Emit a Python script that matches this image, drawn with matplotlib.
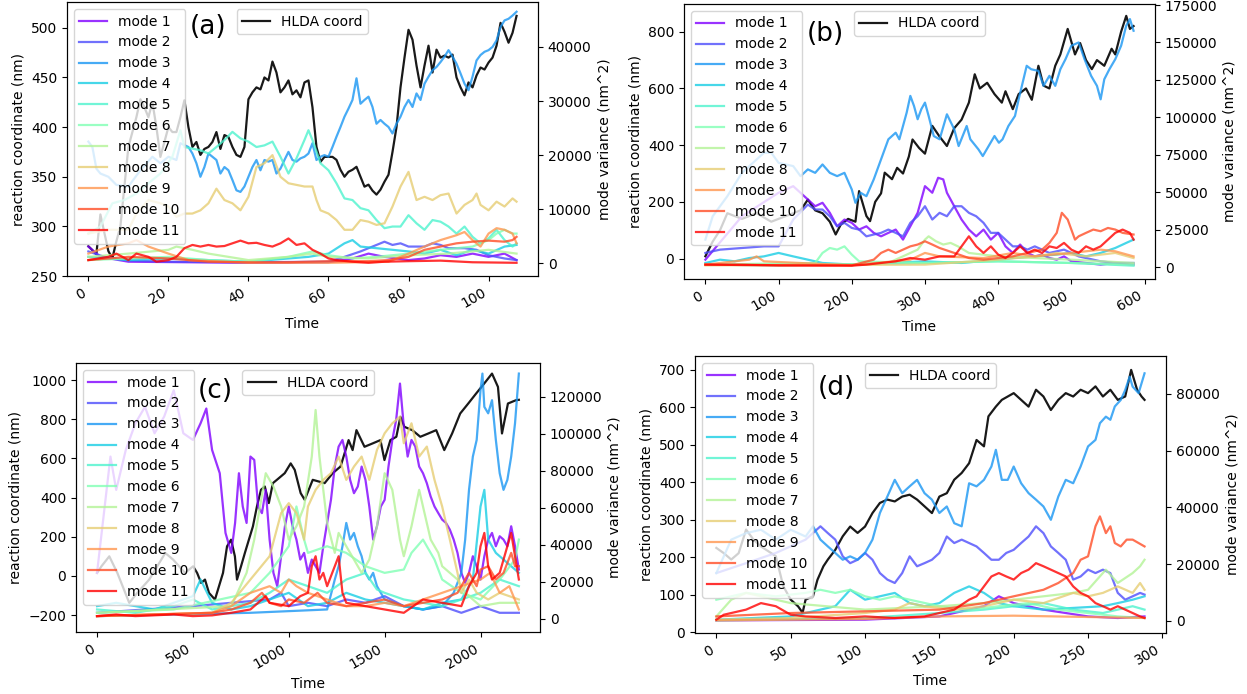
import numpy as np
import matplotlib
matplotlib.use("Agg")
import matplotlib.pyplot as plt

plt.rcParams['font.family'] = ['DejaVu Sans']
plt.rcParams['font.size'] = 10

mode_names = ["mode %d" % i for i in range(1, 12)]

# ---------------- panel (a) ----------------
a_hlda_t = [0, 2, 3, 5, 6, 7, 8, 10, 11, 12, 13, 14, 15, 16, 17, 18, 19, 20, 21, 22, 23, 24, 25, 26, 27, 28, 29,
            30, 31, 32, 33, 34, 35, 36, 37, 38, 39, 40, 41, 42, 43, 44, 45, 46, 47, 48, 49, 50, 51, 52, 53, 54, 55,
            56, 57, 58, 59, 60, 61, 62, 63, 64, 65, 66, 67, 68, 69, 70, 71, 72, 73, 74, 75, 76, 77, 78, 79, 80, 81,
            82, 83, 84, 85, 86, 87, 88, 89, 90, 91, 92, 93, 94, 95, 96, 97, 98, 99, 100, 101, 102, 103, 104, 105,
            106, 107]
a_hlda = [280, 272, 312, 275, 268, 285, 300, 380, 395, 410, 428, 420, 410, 425, 400, 370, 385, 400, 395, 395, 410,
          427, 400, 380, 385, 372, 378, 380, 385, 395, 378, 392, 390, 380, 372, 370, 380, 428, 435, 440, 438, 450,
          447, 466, 455, 435, 440, 447, 433, 437, 430, 445, 447, 420, 380, 365, 370, 370, 370, 367, 357, 350, 355,
          357, 360, 350, 340, 342, 336, 332, 337, 345, 352, 375, 400, 440, 470, 498, 488, 462, 440, 462, 482, 455,
          478, 470, 472, 470, 473, 450, 440, 432, 445, 440, 452, 460, 458, 465, 470, 482, 505, 496, 485, 495, 512]

a_mode_t = [
    [0, 3, 10, 40, 60, 66, 70, 74, 80, 84, 88, 92, 96, 100, 104, 107],
    [0, 4, 10, 20, 40, 60, 64, 68, 72, 74, 76, 78, 80, 84, 86, 88, 90, 94, 97, 100, 104, 107],
    [0, 1, 2, 3, 5, 7, 10, 13, 16, 18, 20, 22, 23, 25, 26, 27, 28, 29, 30, 31, 32, 33, 34, 35, 36, 37, 38, 39, 40,
     41, 42, 43, 44, 45, 46, 47, 48, 49, 50, 51, 52, 53, 54, 55, 56, 57, 58, 59, 60, 61, 62, 63, 64, 65, 66, 67,
     68, 69, 70, 71, 72, 73, 74, 75, 76, 77, 78, 79, 80, 81, 82, 83, 84, 85, 86, 87, 88, 89, 90, 91, 92, 93, 94,
     95, 96, 97, 98, 99, 100, 101, 102, 103, 104, 105, 106, 107],
    [0, 10, 20, 40, 55, 60, 64, 66, 68, 72, 76, 80, 84, 88, 92, 96, 100, 104, 107],
    [0, 3, 6, 9, 12, 15, 18, 21, 23, 24, 26, 28, 30, 32, 34, 36, 38, 40, 42, 44, 46, 48, 50, 52, 54, 55, 56, 58,
     60, 62, 64, 66, 68, 70, 72, 74, 76, 78, 80, 82, 84, 86, 88, 90, 92, 94, 96, 98, 100, 102, 104, 106, 107],
    [0, 10, 20, 30, 40, 50, 56, 60, 66, 72, 80, 88, 96, 100, 102, 104, 106, 107],
    [0, 10, 20, 22, 26, 30, 40, 50, 56, 60, 70, 80, 90, 100, 107],
    [0, 5, 10, 12, 15, 18, 20, 22, 24, 26, 28, 30, 32, 34, 36, 38, 40, 42, 44, 46, 48, 50, 52, 54, 56, 57, 58, 60,
     62, 64, 66, 68, 70, 72, 74, 76, 78, 80, 82, 84, 86, 88, 90, 92, 94, 96, 97, 98, 100, 102, 104, 106, 107],
    [0, 5, 10, 12, 15, 20, 25, 40, 60, 75, 80, 84, 88, 92, 94, 96, 98, 100, 102, 104, 106, 107],
    [0, 10, 20, 30, 40, 50, 60, 70, 75, 80, 84, 88, 92, 96, 100, 104, 106, 107],
    [0, 5, 7, 10, 12, 15, 17, 20, 22, 24, 26, 28, 30, 32, 34, 36, 38, 40, 42, 44, 46, 48, 50, 52, 54, 56, 58, 60,
     62, 66, 70, 74, 80, 88, 96, 107],
]
a_mode_v = [
    [3100, 1200, 300, 100, 200, 900, 1800, 1200, 600, 900, 1500, 1200, 1800, 1200, 1800, 600],
    [2200, 1200, 500, 300, 200, 300, 1200, 2200, 3400, 4000, 3400, 3700, 3100, 3100, 3700, 3400, 2800, 2800, 2500,
     1500, 900, 600],
    [22500, 21500, 17500, 16600, 16000, 14500, 14200, 17200, 19700, 18500, 19700, 19100, 22200, 21500, 20300,
     18500, 16000, 17800, 20300, 19700, 19100, 16600, 17800, 17200, 15400, 13500, 13200, 14200, 16000, 17800,
     19100, 17200, 19100, 18800, 19100, 16600, 17500, 19100, 20600, 19100, 18800, 19400, 19700, 20300, 22200,
     19100, 19700, 20000, 19700, 21500, 23400, 25200, 27100, 28600, 30200, 34200, 29500, 30200, 30800, 28900,
     25800, 26500, 25800, 25200, 24000, 25800, 27100, 28900, 30200, 28900, 31400, 30200, 33200, 34500, 35700,
     36300, 37200, 38200, 39400, 38200, 36900, 35100, 33200, 32000, 34500, 37500, 38500, 39100, 39400, 40000,
     41200, 43700, 44900, 45200, 45800, 46500],
    [1200, 600, 900, 300, 1200, 1800, 3700, 4300, 3100, 2800, 2500, 2200, 1800, 2500, 1500, 2500, 1800, 3100, 3400],
    [5500, 6800, 11100, 11700, 12900, 14800, 16600, 19700, 24600, 21500, 21200, 20900, 20300, 21500, 22800, 24300,
     23100, 22500, 21500, 21800, 22500, 19700, 16600, 19400, 22800, 24600, 22800, 18500, 17200, 14800, 12000,
     11700, 10200, 9800, 8000, 6500, 6800, 6800, 8900, 7400, 6200, 8000, 7700, 6800, 5500, 6800, 4900, 3700, 4600,
     6200, 4300, 3100, 3700],
    [600, 900, 1200, 600, 300, 1200, 2200, 1500, 900, 1200, 1800, 2500, 3100, 4300, 5500, 6200, 5500, 5500],
    [1200, 1800, 2500, 3100, 2500, 1800, 600, 1200, 1800, 1200, 900, 1500, 1800, 2500, 1800],
    [5500, 6200, 6200, 9200, 11700, 11100, 10500, 8600, 9200, 9200, 9800, 11100, 13800, 11700, 11100, 9800, 12300,
     17800, 18500, 20000, 16000, 14800, 14500, 14200, 14200, 11700, 9800, 9200, 8000, 6200, 6200, 8000, 7700,
     7100, 7400, 10500, 14200, 16900, 11700, 12300, 11700, 12600, 12900, 9200, 10800, 11700, 12900, 10800, 9800,
     11400, 10500, 12000, 11400],
    [1800, 3100, 3700, 4300, 3100, 1800, 600, 100, 100, 300, 1800, 3100, 4300, 5200, 5800, 4300, 3100, 5500, 6500,
     6200, 5500, 3700],
    [600, 1200, 900, 300, 200, 200, 400, 400, 600, 1200, 2500, 3100, 3700, 4000, 4200, 4000, 4300, 4900],
    [600, 1200, 1800, 600, 1800, 1200, 300, 600, 1200, 2800, 3400, 3100, 3400, 3100, 3200, 3700, 4200, 3700, 3800,
     3400, 3100, 3700, 4600, 3400, 3700, 2500, 1800, 900, 600, 300, 100, 300, 400, 500, 200, 100],
]

# ---------------- panel (b) ----------------
b_hlda_t = [0, 10, 20, 30, 50, 70, 90, 110, 130, 140, 150, 160, 170, 178, 185, 195, 205, 210, 220, 225, 232, 240,
            245, 255, 262, 270, 278, 283, 292, 300, 310, 320, 330, 340, 350, 360, 368, 375, 385, 395, 405, 410, 420,
            428, 438, 446, 455, 462, 470, 478, 485, 495, 505, 512, 520, 528, 535, 545, 555, 560, 568, 575, 580, 585]
b_hlda = [8, 60, 100, 160, 140, 160, 130, 150, 170, 208, 170, 160, 130, 85, 120, 140, 130, 238, 150, 132, 200, 230,
          303, 280, 320, 300, 360, 420, 390, 370, 468, 430, 397, 460, 490, 550, 650, 600, 620, 580, 550, 590, 527,
          580, 600, 560, 680, 610, 600, 680, 720, 810, 720, 760, 700, 668, 700, 680, 740, 720, 800, 856, 810, 820]

b_mode_t = [
    [0, 50, 100, 120, 140, 150, 160, 170, 180, 190, 200, 210, 220, 230, 240, 250, 260, 270, 280, 290, 300, 310,
     318, 325, 330, 340, 350, 360, 370, 380, 390, 400, 410, 420, 430, 440, 450, 460, 470, 480, 490, 500, 520,
     540, 560, 585],
    [0, 20, 50, 80, 100, 120, 140, 150, 160, 170, 180, 190, 200, 210, 220, 230, 240, 250, 260, 270, 280, 290, 300,
     310, 320, 330, 340, 350, 360, 370, 380, 390, 400, 410, 420, 430, 440, 450, 460, 470, 480, 490, 500, 510,
     520, 540, 560, 585],
    [0, 10, 30, 50, 80, 90, 100, 120, 130, 140, 150, 160, 170, 180, 190, 200, 205, 212, 220, 230, 240, 250, 260,
     265, 275, 280, 285, 290, 295, 300, 305, 312, 320, 330, 340, 346, 357, 362, 373, 379, 387, 395, 401, 406,
     414, 423, 428, 439, 445, 455, 462, 470, 478, 485, 492, 500, 510, 518, 527, 535, 540, 545, 552, 560, 568,
     575, 580, 585],
    [0, 20, 40, 60, 80, 100, 120, 140, 160, 200, 300, 350, 400, 420, 450, 480, 500, 520, 540, 560, 575, 585],
    [0, 100, 300, 400, 500, 585],
    [0, 150, 160, 170, 180, 190, 200, 210, 300, 400, 500, 585],
    [0, 200, 250, 290, 300, 305, 315, 325, 335, 345, 360, 400, 450, 500, 585],
    [0, 300, 400, 450, 480, 520, 560, 585],
    [0, 60, 70, 80, 200, 280, 300, 320, 380, 420, 450, 500, 540, 560, 585],
    [0, 50, 100, 200, 230, 240, 250, 260, 270, 280, 290, 300, 310, 320, 340, 360, 380, 400, 420, 440, 460, 470,
     480, 487, 495, 500, 505, 510, 520, 530, 540, 550, 560, 570, 585],
    [0, 100, 200, 220, 240, 260, 280, 300, 320, 340, 350, 360, 370, 380, 390, 400, 410, 420, 430, 440, 450, 460,
     470, 480, 490, 500, 510, 520, 530, 540, 550, 560, 570, 580, 585],
]
b_mode_v = [
    [4900, 33900, 49600, 54000, 45100, 40600, 42900, 36200, 27200, 31700, 29500, 25000, 27200, 22800, 20500,
     22800, 25000, 18300, 27200, 36200, 54000, 49600, 59600, 58500, 49600, 40600, 31700, 25000, 20500, 25000,
     18300, 22800, 13800, 9400, 15000, 9400, 7100, 8300, 6000, 4900, 7100, 3800, 2700, 1600, 2700, 1600],
    [9400, 11600, 12700, 13800, 13800, 31700, 41700, 38400, 38400, 33900, 27200, 29500, 26100, 25000, 20500,
     21700, 22800, 25000, 22800, 20500, 29500, 33900, 40600, 31700, 36200, 33900, 40600, 40600, 36200, 33900,
     29500, 22800, 22800, 18300, 13800, 13800, 11600, 13800, 11600, 9400, 10500, 11600, 9400, 7100, 6000, 3800,
     2700, 2700],
    [18300, 33900, 47300, 62900, 76300, 76300, 69600, 67400, 60700, 65200, 62900, 68500, 62900, 60700, 62900,
     51800, 42900, 49600, 47300, 58500, 71900, 85300, 89700, 85300, 103100, 114300, 107600, 98700, 105400,
     109800, 100900, 87500, 85300, 102000, 92000, 80800, 94200, 85300, 78600, 74100, 80800, 87500, 83000, 85300,
     94200, 100900, 112000, 134400, 132100, 131000, 121000, 127700, 121000, 132100, 138800, 147800, 150000,
     138800, 127700, 121000, 112000, 125400, 132100, 138800, 147800, 161200, 165600, 157800],
    [2700, 4900, 3800, 6000, 7100, 9400, 7100, 4900, 2700, 1600, 3800, 2700, 4900, 6000, 7100, 8300, 9400, 7100,
     9400, 12700, 16100, 18300],
    [1600, 1100, 2700, 3800, 2700, 900],
    [1600, 2700, 9400, 12700, 11600, 13800, 8300, 3800, 2700, 3800, 2700, 1600],
    [1600, 1600, 2700, 11600, 18300, 20500, 17200, 15000, 16100, 13800, 9400, 7100, 6000, 4900, 2700],
    [1100, 1600, 4900, 7100, 9400, 7100, 9400, 6000],
    [1600, 4900, 7100, 3800, 1100, 4900, 9400, 7100, 6000, 9400, 7100, 9400, 11600, 10500, 7100],
    [1600, 1600, 1100, 1100, 4900, 9400, 11600, 9400, 11600, 13800, 15000, 17200, 15000, 12700, 9400, 6000, 4900,
     6000, 7100, 9400, 11600, 16100, 22800, 36200, 31700, 25000, 18300, 20500, 22800, 25000, 23900, 26100,
     25000, 22800, 21700],
    [1600, 1100, 900, 1600, 2700, 3800, 6000, 4900, 7100, 7100, 13800, 20500, 13800, 9400, 13800, 8300, 6000,
     9400, 13800, 9400, 11600, 9400, 13800, 12700, 16100, 11600, 9400, 13800, 11600, 13800, 18300, 22800, 25000,
     22800, 18300],
]

# ---------------- panel (c) ----------------
c_hlda_t = [0, 23, 64, 106, 168, 210, 272, 356, 397, 459, 501, 522, 543, 563, 584, 615, 636, 657, 678, 699, 719,
            730, 751, 771, 792, 813, 834, 855, 875, 896, 917, 938, 979, 1010, 1031, 1062, 1083, 1125, 1187, 1229,
            1270, 1312, 1333, 1353, 1395, 1437, 1478, 1499, 1530, 1561, 1582, 1603, 1644, 1686, 1728, 1769, 1811,
            1852, 1894, 1936, 1977, 2019, 2060, 2091, 2112, 2143, 2185, 2200]
c_hlda = [15, 49, 100, 15, -138, -87, -19, 117, 83, 15, 49, 15, -36, -19, -87, -121, -53, 15, 151, 185, 100, -19,
          49, 117, 185, 253, 355, 440, 457, 372, 474, 491, 525, 575, 542, 423, 389, 491, 474, 525, 559, 694, 643,
          745, 660, 677, 694, 592, 694, 711, 813, 762, 745, 711, 728, 745, 643, 728, 830, 881, 932, 983, 1034, 966,
          728, 881, 898, 900]

c_mode_t = [
    [0, 40, 70, 100, 150, 200, 250, 300, 350, 400, 450, 500, 540, 570, 600, 640, 670, 700, 720, 740, 760, 780,
     800, 820, 840, 860, 880, 900, 920, 940, 960, 980, 1000, 1020, 1040, 1060, 1080, 1100, 1120, 1140, 1160,
     1180, 1200, 1220, 1240, 1260, 1280, 1300, 1320, 1340, 1360, 1380, 1400, 1420, 1440, 1460, 1480, 1500,
     1520, 1540, 1560, 1580, 1600, 1620, 1640, 1660, 1680, 1700, 1720, 1740, 1760, 1780, 1800, 1820, 1840,
     1860, 1880, 1900, 1920, 1940, 1960, 1980, 2000, 2020, 2040, 2060, 2080, 2100, 2120, 2140, 2160, 2180, 2200],
    [0, 500, 700, 900, 960, 1000, 1100, 1200, 1300, 1400, 1500, 1600, 1700, 1800, 1900, 2000, 2100, 2200],
    [0, 400, 800, 1200, 1240, 1260, 1280, 1300, 1320, 1340, 1360, 1380, 1400, 1420, 1440, 1460, 1480, 1500, 1600,
     1700, 1800, 1860, 1900, 1920, 1940, 1960, 1980, 2000, 2010, 2020, 2040, 2060, 2080, 2100, 2120, 2140, 2160,
     2180, 2200],
    [0, 100, 200, 300, 400, 500, 540, 600, 700, 800, 900, 1000, 1100, 1200, 1300, 1400, 1500, 1600, 1700, 1800,
     1900, 1960, 2000, 2020, 2040, 2080, 2120, 2160, 2200],
    [0, 200, 400, 500, 600, 800, 900, 1000, 1100, 1200, 1300, 1400, 1460, 1500, 1600, 1700, 1800, 1900, 2000,
     2100, 2200],
    [0, 400, 800, 900, 1000, 1040, 1080, 1100, 1200, 1300, 1400, 1500, 1600, 1640, 1700, 1760, 1800, 1900, 2000,
     2100, 2180, 2200],
    [0, 700, 780, 820, 850, 880, 920, 960, 1000, 1040, 1080, 1120, 1140, 1160, 1180, 1200, 1240, 1260, 1300, 1340,
     1380, 1420, 1460, 1500, 1540, 1580, 1600, 1640, 1680, 1700, 1740, 1780, 1800, 1840, 1880, 1920, 2000, 2100,
     2200],
    [0, 600, 700, 800, 900, 960, 1000, 1040, 1080, 1100, 1140, 1180, 1220, 1260, 1300, 1340, 1380, 1420, 1460,
     1500, 1540, 1580, 1600, 1640, 1680, 1720, 1760, 1800, 1840, 1880, 1900, 1940, 1980, 2040, 2100, 2200],
    [0, 600, 700, 800, 900, 960, 1000, 1040, 1100, 1200, 1300, 1400, 1500, 1600, 1700, 1800, 1900, 2000, 2050,
     2100, 2150, 2200],
    [0, 300, 600, 700, 800, 860, 900, 960, 1000, 1080, 1150, 1200, 1300, 1400, 1500, 1600, 1700, 1800, 1880, 1940,
     1980, 2000, 2040, 2080, 2120, 2160, 2180, 2200],
    [0, 100, 200, 400, 500, 600, 700, 800, 880, 900, 1000, 1060, 1100, 1120, 1140, 1160, 1180, 1200, 1240, 1260,
     1280, 1300, 1400, 1500, 1600, 1700, 1800, 1900, 1940, 1980, 2000, 2020, 2040, 2060, 2100, 2140, 2160, 2180,
     2200],
]
c_mode_v = [
    [24800, 60700, 87700, 69700, 91300, 105700, 114600, 100300, 109300, 123600, 100300, 96700, 105700, 113700,
     91300, 78700, 46400, 35600, 51800, 78700, 60700, 51800, 87700, 85900, 60700, 57100, 69700, 42800, 24800,
     17600, 33800, 50000, 60700, 50000, 42800, 32000, 35600, 24800, 32000, 28400, 24800, 39200, 51800, 64300,
     82300, 93100, 96700, 87700, 75100, 67900, 71500, 82300, 75100, 60700, 42800, 50000, 60700, 64300, 82300,
     96700, 107500, 127200, 103900, 87700, 96700, 93100, 82300, 78700, 73300, 66100, 60700, 57100, 53600, 51800,
     48200, 42800, 35600, 24800, 19400, 24800, 33800, 28400, 21200, 33800, 42800, 46400, 39200, 44600, 42800,
     39200, 50000, 39200, 26600],
    [3200, 6800, 8600, 10400, 14000, 6800, 8600, 6800, 10400, 8600, 12200, 6800, 5000, 6800, 3200, 6800, 3200, 3200],
    [1400, 2300, 3200, 5000, 21200, 28400, 39200, 51800, 42800, 46400, 39200, 33800, 24800, 21200, 24800, 17600,
     14000, 10400, 6800, 5000, 6800, 14000, 24800, 42800, 69700, 87700, 96700, 123600, 132600, 114600, 111100,
     118200, 96700, 78700, 69700, 75100, 87700, 105700, 132600],
    [6800, 8600, 6800, 5000, 8600, 12200, 21200, 8600, 5000, 6800, 10400, 14000, 6800, 8600, 14000, 10400, 8600,
     6800, 5000, 8600, 10400, 21200, 60700, 69700, 42800, 35600, 32000, 28400, 24800],
    [5000, 3200, 6800, 10400, 5000, 8600, 14000, 21200, 17600, 14000, 21200, 24800, 15800, 14000, 10400, 8600,
     6800, 10400, 14000, 21200, 17600],
    [3200, 5000, 14000, 24800, 39200, 60700, 42800, 35600, 39200, 35600, 28400, 24800, 26600, 35600, 42800, 32000,
     21200, 14000, 10400, 21200, 32000, 42800],
    [3200, 6800, 24800, 42800, 60700, 78700, 71500, 60700, 42800, 50000, 60700, 87700, 112900, 87700, 69700,
     51800, 35600, 46400, 39200, 32000, 24800, 32000, 50000, 78700, 69700, 42800, 33800, 50000, 69700, 60700,
     42800, 35600, 28400, 24800, 21200, 14000, 6800, 8600, 8600],
    [1400, 3200, 8600, 21200, 33800, 57100, 62500, 57100, 42800, 60700, 69700, 75100, 78700, 87700, 75100, 82300,
     87700, 75100, 91300, 100300, 105700, 109300, 94900, 105700, 87700, 93100, 75100, 60700, 42800, 24800,
     14000, 21200, 14000, 10400, 14000, 10400],
    [1400, 3200, 6800, 14000, 17600, 14000, 21200, 17600, 14000, 10400, 6800, 6800, 8600, 6800, 10400, 14000,
     17600, 21200, 24800, 14000, 17600, 5000],
    [1400, 2300, 3200, 5000, 8600, 14000, 8600, 6800, 10400, 8600, 14000, 8600, 6800, 8600, 10400, 6800, 8600,
     10400, 14000, 24800, 17600, 26600, 28400, 21200, 24800, 35600, 28400, 28400],
    [1400, 2300, 1400, 2300, 1400, 1800, 3200, 5000, 12200, 8600, 6800, 12200, 14000, 28400, 33800, 21200, 24800,
     17600, 28400, 33800, 14000, 8600, 6800, 5000, 3200, 10400, 8600, 6800, 17600, 24800, 39200, 46400, 28400,
     21200, 24800, 39200, 46400, 33800, 21200],
]

# ---------------- panel (d) ----------------
d_hlda_t = [0, 5, 10, 15, 20, 25, 30, 40, 45, 50, 55, 58, 60, 65, 68, 72, 75, 80, 85, 90, 95, 100, 105, 110, 115,
            120, 125, 130, 135, 140, 145, 150, 155, 160, 165, 170, 175, 180, 183, 188, 192, 196, 200, 205, 210, 215,
            220, 225, 230, 235, 240, 245, 250, 255, 260, 265, 270, 275, 279, 283, 286, 288]
d_hlda = [225, 211, 194, 211, 274, 247, 229, 203, 123, 87, 69, 52, 87, 96, 140, 176, 194, 220, 256, 282, 265, 282,
          318, 345, 354, 349, 362, 367, 354, 336, 318, 362, 371, 407, 425, 451, 513, 496, 576, 602, 620, 629, 638,
          620, 602, 647, 629, 593, 620, 638, 629, 647, 638, 656, 629, 647, 620, 629, 700, 647, 629, 620]

d_mode_t = [
    [0, 100, 150, 180, 190, 200, 220, 250, 270, 288],
    [0, 20, 40, 60, 70, 75, 80, 85, 90, 95, 100, 105, 110, 115, 120, 125, 130, 135, 140, 145, 150, 155, 160, 165,
     170, 175, 180, 185, 190, 195, 200, 205, 210, 215, 220, 225, 230, 235, 240, 245, 250, 255, 260, 265, 270,
     275, 280, 285, 288],
    [0, 10, 20, 30, 40, 50, 60, 65, 70, 75, 80, 85, 90, 95, 100, 105, 110, 115, 120, 125, 130, 135, 140, 145, 150,
     155, 160, 165, 170, 175, 180, 185, 188, 192, 196, 200, 205, 210, 215, 220, 225, 230, 235, 240, 245, 250,
     255, 258, 262, 265, 268, 272, 275, 278, 280, 284, 288],
    [0, 50, 80, 90, 100, 110, 120, 130, 140, 150, 160, 170, 180, 190, 200, 220, 240, 260, 270, 280, 288],
    [0, 100, 150, 180, 200, 220, 240, 260, 280, 288],
    [0, 20, 40, 60, 70, 80, 90, 100, 110, 120, 130, 150, 170, 190, 210, 230, 250, 270, 288],
    [0, 10, 20, 50, 100, 150, 180, 200, 220, 240, 250, 262, 270, 280, 285, 288],
    [0, 50, 100, 120, 130, 140, 160, 180, 200, 220, 240, 250, 260, 270, 280, 285, 288],
    [0, 100, 150, 200, 250, 288],
    [0, 50, 100, 150, 180, 200, 220, 230, 240, 245, 250, 255, 258, 262, 265, 268, 272, 276, 280, 284, 288],
    [0, 5, 10, 20, 30, 40, 50, 60, 80, 100, 120, 140, 150, 160, 170, 175, 180, 185, 190, 195, 200, 205, 210, 215,
     220, 225, 230, 235, 240, 245, 250, 255, 260, 265, 270, 275, 280, 285, 288],
]
d_mode_v = [
    [100, 350, 1500, 5100, 8600, 6200, 3900, 1500, 940, 1500],
    [16800, 20300, 23900, 28600, 33300, 30900, 28600, 22700, 20300, 21500, 23900, 21500, 16800, 14500, 13300,
     16800, 22700, 19200, 20300, 21500, 23900, 29700, 27400, 28600, 27400, 26200, 23900, 21500, 21500, 23900,
     25000, 27400, 29700, 33300, 30900, 26200, 23900, 21500, 14500, 15600, 18000, 16800, 18000, 16800, 9800,
     7400, 8600, 9800, 9200],
    [16800, 28600, 30900, 32100, 28600, 32100, 29700, 33300, 28600, 26200, 23900, 21500, 22700, 21500, 23900,
     28600, 38000, 43800, 49700, 45000, 47400, 49700, 45000, 42700, 38000, 40300, 34400, 33300, 48500, 47400,
     49700, 54400, 60300, 49700, 49700, 54400, 48500, 45000, 42700, 40300, 35600, 43800, 49700, 48500, 54400,
     61500, 63800, 69700, 72000, 70900, 75600, 77900, 81400, 86100, 82600, 80300, 87300],
    [350, 1500, 5100, 10900, 7400, 8600, 9800, 6200, 5100, 6200, 9800, 12100, 9800, 6200, 5100, 3900, 4500, 5100,
     6200, 7400, 8600],
    [100, 940, 2700, 3900, 5100, 6200, 3900, 2700, 5100, 3900],
    [7400, 9800, 8600, 9800, 10900, 9800, 10900, 8600, 7400, 8600, 7400, 5100, 3900, 5100, 6200, 3900, 2700, 1500,
     940],
    [1500, 7400, 9800, 6200, 3900, 5100, 6200, 7400, 8600, 9800, 10900, 18000, 13300, 16800, 19200, 21500],
    [350, 940, 2700, 3900, 6200, 5100, 3900, 5100, 7400, 6200, 9800, 8600, 9800, 12100, 9800, 13300, 10900],
    [100, 600, 1500, 1760, 1300, 940],
    [1500, 2700, 3300, 3900, 6200, 8600, 10900, 13300, 16800, 21500, 22700, 33300, 36800, 30900, 33300, 27400,
     26200, 28600, 28600, 27400, 26200],
    [350, 2100, 2700, 3900, 6200, 5100, 2100, 1500, 940, 1500, 940, 1500, 2700, 3900, 7400, 8600, 12100, 15600,
     16800, 15600, 14500, 16800, 18000, 20300, 19200, 18000, 16800, 15600, 12100, 9800, 8600, 6200, 5100, 3900,
     5100, 3900, 2700, 1500, 940],
]

colors = plt.cm.rainbow(np.linspace(0, 1, 11))


def panel(rect, label, label_xy, hlda_t, hlda, mode_t, mode_v, xlim, ylim_l, ylim_r, xticks, yticks_l, yticks_r):
    ax = fig.add_axes(rect)
    ax2 = ax.twinx()
    ax.plot(hlda_t, hlda, color='k', lw=1.6, alpha=0.9, label='HLDA coord')
    for i in range(11):
        ax2.plot(mode_t[i], mode_v[i], color=colors[i], lw=1.6, alpha=0.8, label=mode_names[i])
    ax.set_xlim(xlim)
    ax.set_ylim(ylim_l)
    ax2.set_ylim(ylim_r)
    ax.set_xticks(xticks)
    ax.set_yticks(yticks_l)
    ax2.set_yticks(yticks_r)
    for lab in ax.get_xticklabels():
        lab.set_rotation(30)
        lab.set_ha('right')
    ax.set_xlabel('Time')
    ax.set_ylabel('reaction coordinate (nm)')
    ax2.set_ylabel('mode variance (nm^2)')
    ax.legend(loc='upper center')
    ax2.legend(loc='upper left')
    ax2.text(label_xy[0], label_xy[1], label, transform=ax2.transAxes, fontsize=19,
             ha='center', va='center', zorder=10)


fig = plt.figure(figsize=(12.47, 6.94), dpi=100)

panel([0.0537, 0.6023, 0.3777, 0.3948], '(a)', (0.30, 0.91), a_hlda_t, a_hlda, a_mode_t, a_mode_v,
      (-5.35, 112.35), (250, 526), (-2340, 48300),
      [0, 20, 40, 60, 80, 100], [250, 300, 350, 400, 450, 500], [0, 10000, 20000, 30000, 40000])
panel([0.5485, 0.5980, 0.3777, 0.3963], '(b)', (0.30, 0.89), b_hlda_t, b_hlda, b_mode_t, b_mode_v,
      (-29.25, 614.25), (-72, 898), (-8000, 175700),
      [0, 100, 200, 300, 400, 500, 600], [0, 200, 400, 600, 800],
      [0, 25000, 50000, 75000, 100000, 125000, 150000, 175000])
panel([0.0609, 0.0893, 0.3721, 0.3876], '(c)', (0.30, 0.895), c_hlda_t, c_hlda, c_mode_t, c_mode_v,
      (-110, 2310), (-287, 1088), (-7200, 138300),
      [0, 500, 1000, 1500, 2000], [-200, 0, 200, 400, 600, 800, 1000],
      [0, 20000, 40000, 60000, 80000, 100000, 120000])
panel([0.5573, 0.0879, 0.3777, 0.3991], '(d)', (0.30, 0.885), d_hlda_t, d_hlda, d_mode_t, d_mode_v,
      (-14.4, 302.4), (-2, 737), (-4350, 93400),
      [0, 50, 100, 150, 200, 250, 300], [0, 100, 200, 300, 400, 500, 600, 700],
      [0, 20000, 40000, 60000, 80000])

fig.savefig('out.png', dpi=100)
